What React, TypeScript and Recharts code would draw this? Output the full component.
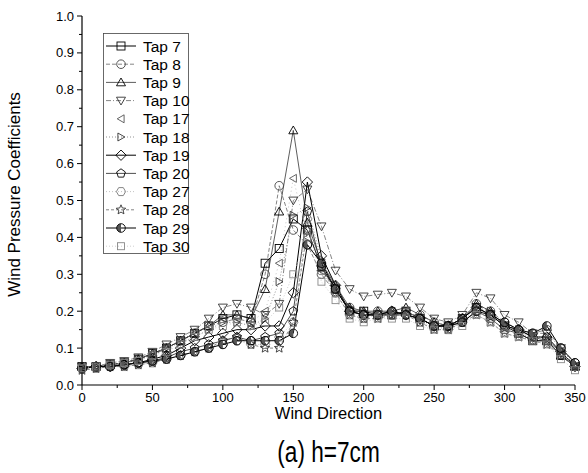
import React from 'react';
import { LineChart, Line, XAxis, YAxis } from 'recharts';

// wind direction (deg), one reading every 10 degrees
const directions = [0, 10, 20, 30, 40, 50, 60, 70, 80, 90, 100, 110, 120, 130, 140, 150, 160, 170, 180, 190, 200, 210, 220, 230, 240, 250, 260, 270, 280, 290, 300, 310, 320, 330, 340, 350];

const tap7 = [0.05, 0.05, 0.055, 0.06, 0.07, 0.085, 0.10, 0.12, 0.14, 0.16, 0.18, 0.19, 0.18, 0.33, 0.37, 0.45, 0.42, 0.32, 0.26, 0.20, 0.20, 0.19, 0.19, 0.20, 0.18, 0.16, 0.16, 0.18, 0.21, 0.19, 0.16, 0.14, 0.12, 0.12, 0.08, 0.05];
const tap8 = [0.045, 0.05, 0.05, 0.06, 0.07, 0.08, 0.10, 0.12, 0.14, 0.16, 0.17, 0.18, 0.17, 0.30, 0.54, 0.42, 0.38, 0.30, 0.25, 0.21, 0.19, 0.20, 0.19, 0.19, 0.19, 0.17, 0.16, 0.18, 0.22, 0.20, 0.17, 0.15, 0.14, 0.15, 0.10, 0.06];
const tap9 = [0.05, 0.05, 0.055, 0.06, 0.07, 0.085, 0.10, 0.12, 0.14, 0.16, 0.19, 0.19, 0.18, 0.26, 0.47, 0.69, 0.44, 0.33, 0.27, 0.21, 0.20, 0.20, 0.20, 0.21, 0.19, 0.17, 0.16, 0.18, 0.22, 0.20, 0.16, 0.15, 0.13, 0.12, 0.08, 0.05];
const tap10 = [0.05, 0.05, 0.06, 0.065, 0.075, 0.09, 0.11, 0.13, 0.15, 0.18, 0.21, 0.22, 0.21, 0.19, 0.22, 0.50, 0.53, 0.43, 0.31, 0.26, 0.24, 0.245, 0.25, 0.24, 0.21, 0.18, 0.17, 0.19, 0.25, 0.235, 0.19, 0.17, 0.14, 0.14, 0.10, 0.05];
const tap17 = [0.05, 0.05, 0.055, 0.06, 0.07, 0.085, 0.10, 0.12, 0.14, 0.16, 0.18, 0.18, 0.17, 0.20, 0.33, 0.56, 0.40, 0.31, 0.26, 0.20, 0.19, 0.19, 0.20, 0.20, 0.18, 0.16, 0.15, 0.17, 0.21, 0.19, 0.16, 0.14, 0.13, 0.12, 0.08, 0.05];
const tap18 = [0.05, 0.05, 0.055, 0.06, 0.07, 0.08, 0.10, 0.115, 0.13, 0.15, 0.17, 0.17, 0.16, 0.18, 0.28, 0.46, 0.48, 0.34, 0.27, 0.21, 0.20, 0.19, 0.19, 0.20, 0.18, 0.16, 0.16, 0.18, 0.21, 0.20, 0.16, 0.15, 0.13, 0.13, 0.09, 0.05];
const tap19 = [0.045, 0.05, 0.05, 0.055, 0.06, 0.07, 0.08, 0.10, 0.12, 0.13, 0.14, 0.15, 0.15, 0.16, 0.16, 0.25, 0.55, 0.35, 0.27, 0.20, 0.19, 0.19, 0.20, 0.19, 0.18, 0.16, 0.16, 0.18, 0.21, 0.19, 0.16, 0.15, 0.13, 0.13, 0.09, 0.05];
const tap20 = [0.045, 0.05, 0.05, 0.055, 0.06, 0.065, 0.075, 0.09, 0.10, 0.11, 0.12, 0.13, 0.12, 0.13, 0.14, 0.20, 0.47, 0.32, 0.26, 0.20, 0.19, 0.19, 0.19, 0.19, 0.18, 0.16, 0.16, 0.17, 0.20, 0.18, 0.15, 0.14, 0.12, 0.12, 0.09, 0.05];
const tap27 = [0.045, 0.045, 0.05, 0.05, 0.055, 0.06, 0.07, 0.08, 0.09, 0.10, 0.11, 0.12, 0.11, 0.11, 0.13, 0.17, 0.45, 0.31, 0.25, 0.19, 0.18, 0.19, 0.19, 0.19, 0.17, 0.16, 0.15, 0.17, 0.20, 0.18, 0.15, 0.14, 0.13, 0.12, 0.09, 0.05];
const tap28 = [0.04, 0.045, 0.05, 0.05, 0.055, 0.06, 0.07, 0.08, 0.09, 0.10, 0.12, 0.13, 0.11, 0.10, 0.10, 0.17, 0.42, 0.32, 0.25, 0.19, 0.18, 0.18, 0.19, 0.19, 0.17, 0.15, 0.15, 0.17, 0.19, 0.17, 0.14, 0.13, 0.12, 0.11, 0.08, 0.05];
const tap29 = [0.045, 0.05, 0.05, 0.055, 0.06, 0.065, 0.07, 0.08, 0.09, 0.10, 0.11, 0.12, 0.12, 0.12, 0.12, 0.14, 0.38, 0.33, 0.26, 0.20, 0.19, 0.19, 0.20, 0.19, 0.18, 0.16, 0.16, 0.17, 0.20, 0.19, 0.17, 0.15, 0.14, 0.16, 0.10, 0.06];
const tap30 = [0.045, 0.05, 0.055, 0.06, 0.065, 0.08, 0.09, 0.11, 0.13, 0.15, 0.16, 0.17, 0.16, 0.17, 0.21, 0.30, 0.40, 0.28, 0.23, 0.18, 0.17, 0.18, 0.18, 0.18, 0.16, 0.15, 0.15, 0.16, 0.19, 0.17, 0.14, 0.13, 0.12, 0.11, 0.07, 0.04];

const xTicks = [0, 25, 50, 75, 100, 125, 150, 175, 200, 225, 250, 275, 300, 325, 350];
const yTicks = [0, 0.05, 0.1, 0.15, 0.2, 0.25, 0.3, 0.35, 0.4, 0.45, 0.5, 0.55, 0.6, 0.65, 0.7, 0.75, 0.8, 0.85, 0.9, 0.95, 1.0];

type Shape = 'square' | 'circle' | 'up' | 'down' | 'left' | 'right' | 'diamond' | 'pentagon' | 'hexagon' | 'star' | 'halfcircle' | 'smallsquare';

const series: { key: string; name: string; values: number[]; stroke: string; dash?: string; width: number; shape: Shape; color: string }[] = [
  { key: 'tap7', name: 'Tap 7', values: tap7, stroke: '#000', width: 1, shape: 'square', color: '#000' },
  { key: 'tap8', name: 'Tap 8', values: tap8, stroke: '#666', dash: '4 2', width: 0.8, shape: 'circle', color: '#444' },
  { key: 'tap9', name: 'Tap 9', values: tap9, stroke: '#333', width: 0.8, shape: 'up', color: '#000' },
  { key: 'tap10', name: 'Tap 10', values: tap10, stroke: '#666', dash: '5 2 1 2', width: 0.8, shape: 'down', color: '#333' },
  { key: 'tap17', name: 'Tap 17', values: tap17, stroke: '#aaa', dash: '1 3', width: 0.7, shape: 'left', color: '#555' },
  { key: 'tap18', name: 'Tap 18', values: tap18, stroke: '#777', dash: '1 2', width: 0.8, shape: 'right', color: '#333' },
  { key: 'tap19', name: 'Tap 19', values: tap19, stroke: '#000', width: 1, shape: 'diamond', color: '#000' },
  { key: 'tap20', name: 'Tap 20', values: tap20, stroke: '#222', width: 0.8, shape: 'pentagon', color: '#000' },
  { key: 'tap27', name: 'Tap 27', values: tap27, stroke: '#aaa', dash: '1 2', width: 0.7, shape: 'hexagon', color: '#777' },
  { key: 'tap28', name: 'Tap 28', values: tap28, stroke: '#666', dash: '3 2', width: 0.8, shape: 'star', color: '#333' },
  { key: 'tap29', name: 'Tap 29', values: tap29, stroke: '#000', width: 1, shape: 'halfcircle', color: '#000' },
  { key: 'tap30', name: 'Tap 30', values: tap30, stroke: '#bbb', dash: '1 2', width: 0.7, shape: 'smallsquare', color: '#888' },
];

const chartData = directions.map((d, i) => {
  const row: Record<string, number> = { dir: d };
  series.forEach((s) => { row[s.key] = s.values[i]; });
  return row;
});

const FONT = '"Liberation Sans", Arial, sans-serif';

function poly(cx: number, cy: number, r: number, n: number, rot: number) {
  const pts: string[] = [];
  for (let i = 0; i < n; i++) {
    const a = rot + (i * 2 * Math.PI) / n;
    pts.push(`${cx + r * Math.cos(a)},${cy + r * Math.sin(a)}`);
  }
  return pts.join(' ');
}

function starPts(cx: number, cy: number, r: number) {
  const pts: string[] = [];
  for (let i = 0; i < 10; i++) {
    const a = -Math.PI / 2 + (i * Math.PI) / 5;
    const rr = i % 2 === 0 ? r : r * 0.45;
    pts.push(`${cx + rr * Math.cos(a)},${cy + rr * Math.sin(a)}`);
  }
  return pts.join(' ');
}

function Marker({ shape, cx, cy, color }: { shape: Shape; cx: number; cy: number; color: string }) {
  const p = { fill: 'none', stroke: color, strokeWidth: 0.9 };
  const r = 4.6;
  switch (shape) {
    case 'square': return <rect x={cx - 4} y={cy - 4} width={8} height={8} {...p} />;
    case 'smallsquare': return <rect x={cx - 3.5} y={cy - 3.5} width={7} height={7} {...p} />;
    case 'circle': return <circle cx={cx} cy={cy} r={4.3} {...p} />;
    case 'up': return <polygon points={poly(cx, cy + 0.8, r + 0.6, 3, -Math.PI / 2)} {...p} />;
    case 'down': return <polygon points={poly(cx, cy - 0.8, r + 0.6, 3, Math.PI / 2)} {...p} />;
    case 'left': return <polygon points={poly(cx + 0.8, cy, r, 3, Math.PI)} {...p} />;
    case 'right': return <polygon points={poly(cx - 0.8, cy, r, 3, 0)} {...p} />;
    case 'diamond': return <polygon points={poly(cx, cy, r + 0.6, 4, 0)} {...p} />;
    case 'pentagon': return <polygon points={poly(cx, cy, r, 5, -Math.PI / 2)} {...p} />;
    case 'hexagon': return <polygon points={poly(cx, cy, r, 6, 0)} {...p} />;
    case 'star': return <polygon points={starPts(cx, cy, r + 0.4)} {...p} />;
    case 'halfcircle':
      return (
        <g>
          <path d={`M${cx},${cy - 4.3} A4.3,4.3 0 0,0 ${cx},${cy + 4.3} Z`} fill="#555" stroke="none" />
          <circle cx={cx} cy={cy} r={4.3} {...p} />
        </g>
      );
    default: return null;
  }
}

function LegendBox() {
  return (
    <svg width={87} height={222} style={{ display: 'block' }}>
      <rect x={0.5} y={0.5} width={85} height={220} fill="#fff" stroke="#444" strokeWidth={0.8} />
      {series.map((s, i) => {
        const y = 13 + i * 18.2;
        return (
          <g key={s.key}>
            {s.key !== 'tap17' && (
              <line x1={3} x2={33} y1={y} y2={y} stroke={s.stroke} strokeWidth={s.width} strokeDasharray={s.dash} />
            )}
            <Marker shape={s.shape} cx={18} cy={y} color={s.color} />
            <text x={40} y={y} dominantBaseline="central" fontSize={15.5} fontFamily={FONT} fill="#000">{s.name}</text>
          </g>
        );
      })}
    </svg>
  );
}

const isMajorX = (v: number) => v % 50 === 0;
const isMajorY = (v: number) => Math.abs(Math.round(v * 10) - v * 10) < 1e-6;

function BottomTick(props: any) {
  const { x, y, payload } = props;
  const major = isMajorX(payload.value);
  return (
    <g>
      <line x1={x} x2={x} y1={y} y2={y + (major ? 5 : 3)} stroke="#000" strokeWidth={1} />
      {major && <text x={x} y={y + 17} textAnchor="middle" fontSize={13} fontFamily={FONT} fill="#000">{payload.value}</text>}
    </g>
  );
}

function TopTick(props: any) {
  const { x, y, payload } = props;
  const major = isMajorX(payload.value);
  return <line x1={x} x2={x} y1={y} y2={y + (major ? 5 : 3)} stroke="#000" strokeWidth={1} />;
}

function LeftTick(props: any) {
  const { x, y, payload } = props;
  const major = isMajorY(payload.value);
  return (
    <g>
      <line x1={x - (major ? 5 : 3)} x2={x} y1={y} y2={y} stroke="#000" strokeWidth={1} />
      {major && <text x={x - 8} y={y} textAnchor="end" dominantBaseline="central" fontSize={13} fontFamily={FONT} fill="#000">{payload.value.toFixed(1)}</text>}
    </g>
  );
}

function RightTick(props: any) {
  const { x, y, payload } = props;
  const major = isMajorY(payload.value);
  return <line x1={x - (major ? 5 : 3)} x2={x} y1={y} y2={y} stroke="#000" strokeWidth={1} />;
}

function XTitle(props: any) {
  const vb = props.viewBox || { x: 82, y: 385, width: 493 };
  const cx = vb.x + vb.width / 2;
  return (
    <g>
      <text x={cx} y={419} textAnchor="middle" fontSize={16.5} fontFamily={FONT} fill="#000">Wind Direction</text>
      <g transform={`translate(${cx}, 462) scale(0.78, 1)`}>
        <text x={0} y={0} textAnchor="middle" fontSize={29} fontFamily={FONT} fill="#000">(a) h=7cm</text>
      </g>
    </g>
  );
}

function YTitle(props: any) {
  const vb = props.viewBox || { y: 16, height: 369 };
  const cy = vb.y + vb.height / 2 - 6;
  return (
    <text x={20} y={cy} transform={`rotate(-90, 20, ${cy})`} textAnchor="middle" fontSize={17} fontFamily={FONT} fill="#000">
      Wind Pressure Coefficients
    </text>
  );
}

export default function App() {
  return (
    <div style={{ position: 'absolute', left: 0, top: 0, width: 588, height: 473, background: '#fff' }}>
      <LineChart width={588} height={473} data={chartData} margin={{ top: 16, right: 13, bottom: 58, left: 0 }}>
        <XAxis dataKey="dir" type="number" domain={[0, 350]} ticks={xTicks} interval={0} tickSize={0} tickMargin={0}
          tick={<BottomTick />} tickLine={false} axisLine={{ stroke: '#000', strokeWidth: 1.2 }} height={30} label={<XTitle />} />
        <XAxis xAxisId="top" orientation="top" dataKey="dir" type="number" domain={[0, 350]} ticks={xTicks} interval={0}
          tickSize={0} tickMargin={0} tick={<TopTick />} tickLine={false} axisLine={{ stroke: '#000', strokeWidth: 1 }} height={0} />
        <YAxis type="number" domain={[0, 1]} ticks={yTicks} interval={0} tickSize={0} tickMargin={0} tick={<LeftTick />}
          tickLine={false} axisLine={{ stroke: '#000', strokeWidth: 1.2 }} width={82} label={<YTitle />} />
        <YAxis yAxisId="right" orientation="right" type="number" domain={[0, 1]} ticks={yTicks} interval={0} tickSize={0}
          tickMargin={0} tick={<RightTick />} tickLine={false} axisLine={{ stroke: '#000', strokeWidth: 1.2 }} width={0} />
        {series.map((s) => (
          <Line
            key={s.key}
            dataKey={s.key}
            name={s.name}
            type="linear"
            stroke={s.stroke}
            strokeWidth={s.width}
            strokeDasharray={s.dash}
            isAnimationActive={false}
            dot={(p: any) => <Marker key={`${s.key}-${p.index}`} shape={s.shape} cx={p.cx} cy={p.cy} color={s.color} />}
            activeDot={false}
          />
        ))}
      </LineChart>
      <div style={{ position: 'absolute', left: 103, top: 33 }}>
        <LegendBox />
      </div>
    </div>
  );
}
